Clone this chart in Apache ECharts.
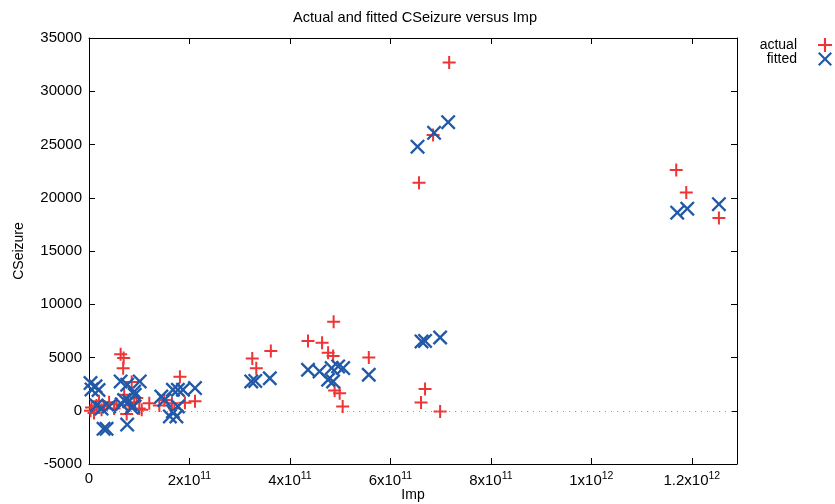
<!DOCTYPE html>
<html>
<head>
<meta charset="utf-8">
<script src="https://cdn.jsdelivr.net/npm/echarts@6/dist/echarts.min.js"></script>
<style>
html,body{margin:0;padding:0;background:#fff;}
#chart{width:835px;height:504px;}
</style>
</head>
<body>
<div id="chart"></div>
<script>
// ---- Data (Imp, CSeizure) ----
var actualPoints = [
  [0.3e10, 0], [0.5e10, 300], [1.0e10, -200], [1.5e10, 500], [2.0e10, 900],
  [2.5e10, 100], [3.0e10, 400], [4.0e10, 800], [5.0e10, 200], [5.5e10, 600],
  [6.3e10, 5300], [6.9e10, 4950], [6.8e10, 4000], [7.0e10, 1500], [7.5e10, -300],
  [8.0e10, 500], [8.5e10, 2700], [9.0e10, 800], [9.5e10, 1200], [1.0e11, 200],
  [1.05e11, 100], [1.2e11, 700], [1.4e11, 500], [1.5e11, 1000], [1.65e11, 700],
  [1.7e11, 200], [1.81e11, 3200], [1.91e11, 750], [2.11e11, 900],
  [3.25e11, 4900], [3.33e11, 4000], [3.62e11, 5600],
  [4.36e11, 6550], [4.64e11, 6380], [4.76e11, 5450], [4.87e11, 8350], [4.86e11, 5150],
  [4.89e11, 1900], [4.99e11, 1650], [5.05e11, 400], [5.57e11, 5000],
  [6.57e11, 21400], [6.85e11, 25900], [7.17e11, 32700],
  [6.61e11, 780], [6.69e11, 2040], [6.99e11, -70],
  [11.69e11, 22600], [11.89e11, 20500], [12.54e11, 18100]
];
var fittedPoints = [
  [0.3e10, 2600], [0.5e10, 2000], [1.3e10, 2300], [1.9e10, 1950], [1.5e10, 500],
  [2.5e10, 200], [2.9e10, -1700], [3.5e10, -1700], [4.0e10, 400], [6.3e10, 2750],
  [7.6e10, 2450], [6.5e10, 600], [7.0e10, 1000], [7.6e10, -1300], [8.0e10, 900],
  [8.5e10, 300], [9.1e10, 1500], [1.01e11, 2750], [8.8e10, 400], [9.0e10, 1800],
  [1.44e11, 1340], [1.5e11, 1000], [1.61e11, -535], [1.67e11, 1970], [1.67e11, -65],
  [1.74e11, -535], [1.77e11, 400], [1.77e11, 1970], [1.87e11, 1970], [2.11e11, 2130],
  [3.23e11, 2750], [3.31e11, 2800], [3.60e11, 3050],
  [4.36e11, 3850], [4.59e11, 3690], [4.83e11, 4010], [4.96e11, 4160], [5.06e11, 4010],
  [4.76e11, 2910], [4.86e11, 2750], [5.57e11, 3380],
  [6.54e11, 24800], [6.87e11, 26100], [7.15e11, 27100],
  [6.62e11, 6510], [6.69e11, 6560], [6.99e11, 6880],
  [11.71e11, 18600], [11.91e11, 18970], [12.54e11, 19400]
];
var seriesNames = ['actual', 'fitted'];
var titleText = 'Actual and fitted CSeizure versus Imp';
var xName = 'Imp';
var yName = 'CSeizure';

var PLUS = 'path://M4.23,0H5.77V4.23H10V5.77H5.77V10H4.23V5.77H0V4.23H4.23Z';
var CROSS = 'path://M0,1.1L1.1,0L5,3.9L8.9,0L10,1.1L6.1,5L10,8.9L8.9,10L5,6.1L1.1,10L0,8.9L3.9,5Z';
var RED = '#ee3535';
var BLUE = '#2159a8';
var FONT = '"Liberation Sans", Arial, Helvetica, sans-serif';

function sciLabel(v) {
  if (v === 0) return '0';
  var e = Math.floor(Math.log10(Math.abs(v)) + 1e-9);
  var m = +(v / Math.pow(10, e)).toFixed(2);
  return m + 'x10{s|' + e + '}';
}

var chart = echarts.init(document.getElementById('chart'), null, {renderer: 'canvas'});
var axisCommon = {
  axisLine: {show: true, onZero: false, lineStyle: {color: '#000', width: 1}},
  axisTick: {show: true, inside: true, length: 6, lineStyle: {color: '#000'}},
  splitLine: {show: false}
};
var xMin = 0, xMax = 1.29e12, xInt = 2e11;
var yMin = -5000, yMax = 35000, yInt = 5000;

chart.setOption({
  animation: false,
  backgroundColor: '#fff',
  textStyle: {fontFamily: FONT},
  title: {
    text: titleText, left: 410, top: 5, textAlign: 'center',
    textStyle: {fontSize: 14.6, fontWeight: 'normal', color: '#000', fontFamily: FONT}
  },
  legend: {
    orient: 'vertical', right: -2, top: 33, align: 'right',
    itemWidth: 14, itemHeight: 14, itemGap: 0,
    data: [
      {name: seriesNames[0], icon: PLUS},
      {name: seriesNames[1], icon: CROSS}
    ],
    textStyle: {fontSize: 14, color: '#000', fontFamily: FONT, padding: [0, 16, 0, 0]}
  },
  grid: {left: 89, right: 98, top: 38, bottom: 40, containLabel: false, outerBoundsMode: 'none'},
  xAxis: [
    Object.assign({}, axisCommon, {
      type: 'value', min: xMin, max: xMax, interval: xInt, position: 'bottom',
      name: xName, nameLocation: 'middle', nameGap: 24, nameMoveOverlap: false,
      nameTextStyle: {fontSize: 14, color: '#000', fontFamily: FONT},
      axisLabel: {
        color: '#000', fontSize: 15, margin: 7, fontFamily: FONT, showMaxLabel: false,
        formatter: sciLabel,
        rich: {s: {fontSize: 10.5, padding: [0, 0, 9, 0], color: '#000', fontFamily: FONT}}
      }
    }),
    Object.assign({}, axisCommon, {
      type: 'value', min: xMin, max: xMax, interval: xInt, position: 'top',
      axisLabel: {show: false}
    })
  ],
  yAxis: [
    Object.assign({}, axisCommon, {
      type: 'value', min: yMin, max: yMax, interval: yInt, position: 'left',
      name: yName, nameLocation: 'middle', nameGap: 63, nameRotate: 90, nameMoveOverlap: false,
      nameTextStyle: {fontSize: 14, color: '#000', fontFamily: FONT},
      axisLabel: {color: '#000', fontSize: 15, margin: 7, fontFamily: FONT,
        formatter: function (v) { return String(v); }}
    }),
    Object.assign({}, axisCommon, {
      type: 'value', min: yMin, max: yMax, interval: yInt, position: 'right',
      axisLabel: {show: false}
    })
  ],
  series: [
    {
      name: seriesNames[0], type: 'scatter', data: actualPoints,
      symbol: PLUS, symbolSize: 13,
      itemStyle: {color: RED, opacity: 1},
      markLine: {
        silent: true, symbol: 'none', label: {show: false},
        lineStyle: {color: '#999', type: [1, 5], width: 1.2},
        data: [{yAxis: 0}]
      },
      z: 3
    },
    {
      name: seriesNames[1], type: 'scatter', data: fittedPoints,
      symbol: CROSS, symbolSize: 15,
      itemStyle: {color: BLUE, opacity: 1},
      z: 4
    }
  ]
});
</script>
</body>
</html>
